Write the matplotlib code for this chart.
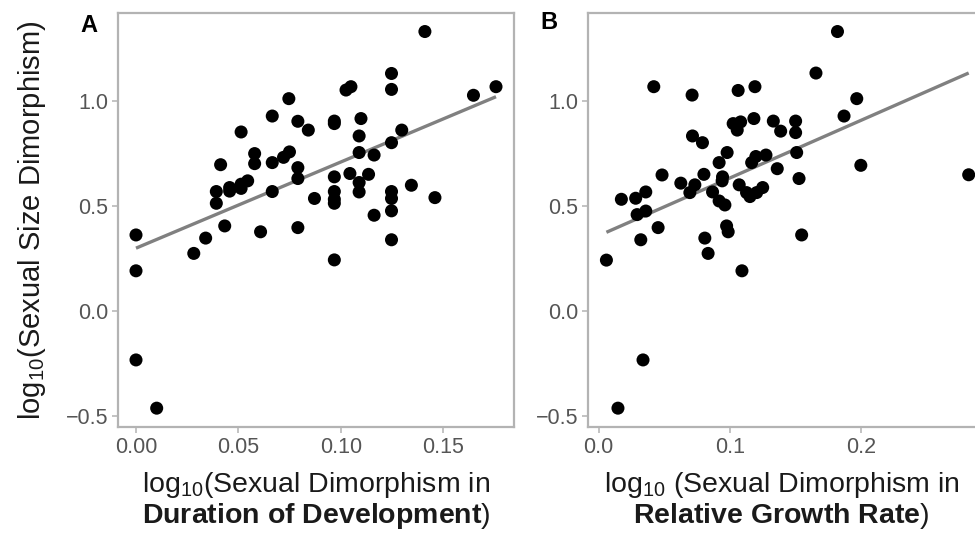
import numpy as np
import matplotlib
matplotlib.use("Agg")
import matplotlib.pyplot as plt

plt.rcParams['font.family'] = ['Liberation Sans', 'DejaVu Sans']
plt.rcParams['mathtext.fontset'] = 'custom'
plt.rcParams['mathtext.rm'] = 'Liberation Sans'
plt.rcParams['mathtext.it'] = 'Liberation Sans:italic'
plt.rcParams['mathtext.bf'] = 'Liberation Sans:bold'

# ---- Panel A: duration of development vs size dimorphism ----
dur_x = [0.141, 0.1247, 0.1247, 0.1757, 0.1647, 0.1049, 0.1025, 0.0746, 0.0665, 0.0513,
         0.0790, 0.0841, 0.0968, 0.0968, 0.1098, 0.1089, 0.1297, 0.1247, 0.1089, 0.1162,
         0.0579, 0.0579, 0.0749, 0.0720, 0.0665, 0.0413, 0.0790, 0.0790, 0.0968, 0.1044,
         0.1135, 0.1089, 0.1089, 0.0545, 0.0513, 0.0457, 0.0392, 0.0392, 0.0665, 0.0871,
         0.0968, 0.0968, 0.0968, 0.1247, 0.1247, 0.1247, 0.1162, 0.1344, 0.1459, 0.0,
         0.0, 0.0, 0.0101, 0.0282, 0.0340, 0.0433, 0.0608, 0.0790, 0.0968, 0.1247,
         0.0457, 0.0513]
dur_y = [1.333, 1.133, 1.057, 1.070, 1.029, 1.070, 1.054, 1.013, 0.930, 0.854,
         0.905, 0.863, 0.906, 0.894, 0.918, 0.835, 0.863, 0.803, 0.756, 0.744,
         0.751, 0.703, 0.759, 0.733, 0.708, 0.698, 0.684, 0.632, 0.640, 0.656,
         0.652, 0.613, 0.568, 0.621, 0.605, 0.589, 0.570, 0.514, 0.570, 0.537,
         0.570, 0.533, 0.514, 0.570, 0.537, 0.478, 0.457, 0.600, 0.541, 0.363,
         0.192, -0.233, -0.463, 0.275, 0.348, 0.406, 0.378, 0.398, 0.244, 0.340,
         0.572, 0.585]
fit_a = {"intercept": 0.30, "slope": 4.11}

# ---- Panel B: relative growth rate vs size dimorphism ----
rgr_x = [0.182, 0.1656, 0.042, 0.0712, 0.1063, 0.1191, 0.1967, 0.187, 0.282, 0.1998,
         0.0715, 0.0791, 0.1025, 0.1082, 0.1056, 0.1183, 0.1331, 0.1387, 0.1501, 0.1501,
         0.1509, 0.1527, 0.1361, 0.1275, 0.1198, 0.1166, 0.0979, 0.0918, 0.0944, 0.0941,
         0.0802, 0.0483, 0.0626, 0.0733, 0.0695, 0.0868, 0.1071, 0.1127, 0.1153, 0.1204,
         0.1250, 0.0918, 0.0962, 0.0173, 0.0282, 0.0359, 0.0293, 0.0359, 0.0453, 0.0321,
         0.0059, 0.0809, 0.0834, 0.0975, 0.0987, 0.1092, 0.1547, 0.0338, 0.0147]
rgr_y = [1.333, 1.135, 1.070, 1.030, 1.052, 1.070, 1.013, 0.930, 0.650, 0.695,
         0.835, 0.803, 0.894, 0.902, 0.863, 0.918, 0.906, 0.858, 0.906, 0.851,
         0.756, 0.632, 0.679, 0.744, 0.737, 0.708, 0.756, 0.708, 0.640, 0.621,
         0.652, 0.649, 0.610, 0.602, 0.565, 0.568, 0.602, 0.565, 0.546, 0.565,
         0.589, 0.525, 0.506, 0.533, 0.538, 0.568, 0.460, 0.477, 0.398, 0.340,
         0.243, 0.348, 0.275, 0.406, 0.378, 0.192, 0.363, -0.233, -0.463]
fit_b = {"intercept": 0.3595, "slope": 2.751}

yticks = [-0.5, 0.0, 0.5, 1.0]
xticks_a = [0.00, 0.05, 0.10, 0.15]
xticks_b = [0.0, 0.1, 0.2]

W, H = 975, 533
fig = plt.figure(figsize=(W / 100, H / 100), dpi=100)

def fr(x0, y0, x1, y1):
    return [x0 / W, 1 - y1 / H, (x1 - x0) / W, (y1 - y0) / H]

axA = fig.add_axes(fr(118, 12.7, 514, 427))
axB = fig.add_axes(fr(588.3, 12.7, 986.8, 427))

spine_c = '#B3B3B3'
tick_c = '#555555'

def style(ax, x, y, fit, xticks, fmt):
    x = np.asarray(x); y = np.asarray(y)
    xs = np.array([x.min(), x.max()])
    ax.plot(xs, fit["intercept"] + fit["slope"] * xs, color='#808080', lw=2.4,
            solid_capstyle='butt', zorder=2)
    ax.scatter(x, y, s=88, color='black', edgecolors='none', zorder=3)
    xr = x.max() - x.min(); yr = y.max() - y.min()
    ax.set_xlim(x.min() - 0.05 * xr, x.max() + 0.05 * xr)
    ax.set_ylim(y.min() - 0.05 * yr, y.max() + 0.05 * yr)
    ax.set_xticks(xticks)
    ax.set_xticklabels([fmt.format(v) for v in xticks])
    ax.set_yticks(yticks)
    ax.set_yticklabels(['\u22120.5', '0.0', '0.5', '1.0'])
    for s in ax.spines.values():
        s.set_color(spine_c)
        s.set_linewidth(1.6)
    ax.tick_params(axis='both', colors=spine_c, labelcolor=tick_c, labelsize=15.5,
                   length=4, width=1.1, pad=3)

style(axA, dur_x, dur_y, fit_a, xticks_a, '{:.2f}')
style(axB, rgr_x, rgr_y, fit_b, xticks_b, '{:.1f}')

# panel letters
fig.text(80 / W, 1 - 32 / H, 'A', fontsize=17, fontweight='bold', va='baseline', ha='left')
fig.text(540 / W, 1 - 29 / H, 'B', fontsize=17, fontweight='bold', va='baseline', ha='left')

# y label
fig.text(32 / W, 1 - 220 / H, r'log$_{10}$(Sexual Size Dimorphism)', rotation=90,
         fontsize=21, ha='center', va='center', color='#1a1a1a')

# x labels
cxA = (118 + 514) / 2 / W
cxB = (588.3 + 975) / 2 / W
fig.text(cxA, 1 - 492 / H, r'log$_{10}$(Sexual Dimorphism in', fontsize=20.5,
         ha='center', va='baseline', color='#1a1a1a')
fig.text(cxA, 1 - 523 / H, r'$\mathbf{Duration\ of\ Development}$)', fontsize=20.5,
         ha='center', va='baseline', color='#1a1a1a')
fig.text(cxB, 1 - 492 / H, r'log$_{10}$ (Sexual Dimorphism in', fontsize=20.5,
         ha='center', va='baseline', color='#1a1a1a')
fig.text(cxB, 1 - 523 / H, r'$\mathbf{Relative\ Growth\ Rate}$)', fontsize=20.5,
         ha='center', va='baseline', color='#1a1a1a')

fig.savefig('out.png', dpi=100)
